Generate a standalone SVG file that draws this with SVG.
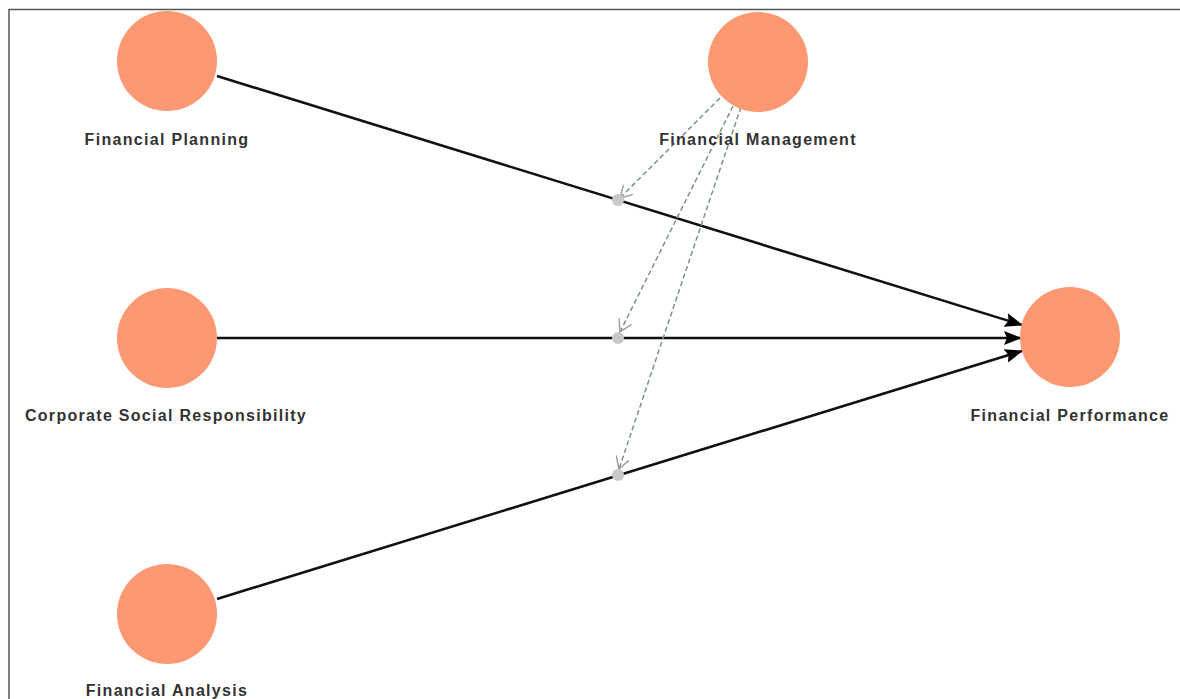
<svg xmlns="http://www.w3.org/2000/svg" width="1180" height="699" viewBox="0 0 1180 699">
<style>
.node{fill:#fd9872;}
.lbl{font-family:"Liberation Sans",Arial,sans-serif;font-weight:bold;font-size:16px;letter-spacing:1.3px;fill:#333;text-anchor:middle;}
.edge{stroke:#111;stroke-width:2.6;fill:none;}
.mod{stroke:#7a9385;stroke-width:1.5;stroke-dasharray:5,3;fill:none;}
.dot{fill:#c8c8c8;}
</style>
<defs>
<marker id="ah" markerWidth="18" markerHeight="14" refX="17" refY="7" orient="auto" markerUnits="userSpaceOnUse">
<path d="M0,0 L18,7 L0,14 L3,7 z" fill="#000"/>
</marker>
<marker id="ov" markerWidth="14" markerHeight="14" refX="12" refY="7" orient="auto" markerUnits="userSpaceOnUse">
<path d="M0,0 L12,7 L0,14" fill="none" stroke="#a0a0a0" stroke-width="1.5"/>
</marker>
</defs>
<rect width="1180" height="699" fill="#fff"/>
<path d="M9,699 L9,9.5 L1180,9.5" fill="none" stroke="#555" stroke-width="1.5"/>
<g id="connectors">
<line class="edge" x1="217" y1="76" x2="1022" y2="325" marker-end="url(#ah)"/>
<line class="edge" x1="217" y1="338" x2="1021" y2="338" marker-end="url(#ah)"/>
<line class="edge" x1="217" y1="599" x2="1022" y2="351" marker-end="url(#ah)"/>
<line class="mod" x1="720" y1="98" x2="620" y2="198" marker-end="url(#ov)"/>
<line class="mod" x1="733" y1="106" x2="620" y2="332" marker-end="url(#ov)"/>
<line class="mod" x1="741" y1="107" x2="619" y2="469" marker-end="url(#ov)"/>
<circle class="dot" cx="618" cy="200" r="6"/>
<circle class="dot" cx="618" cy="338" r="6"/>
<circle class="dot" cx="618" cy="475" r="6"/>
</g>
<g id="financial-planning">
<circle class="node" cx="167" cy="61" r="50"/>
<text class="lbl" x="167" y="145">Financial Planning</text>
</g>
<g id="financial-management">
<circle class="node" cx="758" cy="62" r="50"/>
<text class="lbl" x="758" y="145">Financial Management</text>
</g>
<g id="csr">
<circle class="node" cx="167" cy="338" r="50"/>
<text class="lbl" x="166" y="421">Corporate Social Responsibility</text>
</g>
<g id="financial-performance">
<circle class="node" cx="1070" cy="337" r="50"/>
<text class="lbl" x="1070" y="421">Financial Performance</text>
</g>
<g id="financial-analysis">
<circle class="node" cx="167" cy="614" r="50"/>
<text class="lbl" x="167" y="696">Financial Analysis</text>
</g>
</svg>
